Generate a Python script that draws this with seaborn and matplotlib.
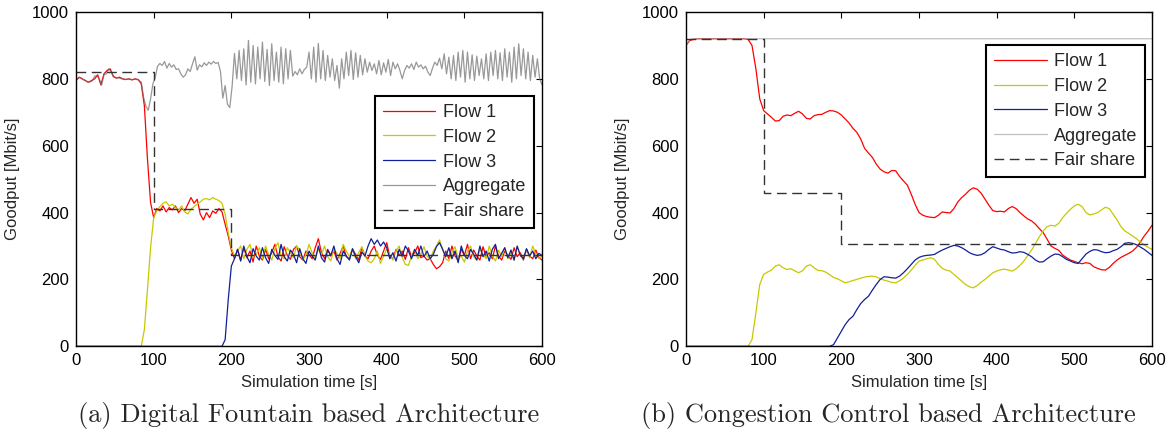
import numpy as np
import matplotlib
matplotlib.use("Agg")
import matplotlib.pyplot as plt
import seaborn as sns

# (a) Digital Fountain: flows sampled every 4 s, aggregate every 3 s
t_a_flow = np.arange(0, 601, 4)
t_a_agg = np.arange(0, 601, 3)

flow1_a = [
    795, 805, 800, 795, 790, 795, 800, 812, 782, 815,
    825, 830, 808, 802, 805, 800, 798, 800, 797, 800,
    798, 785, 720, 560, 430, 385, 412, 405, 420, 402,
    415, 408, 420, 400, 412, 405, 425, 445, 428, 440,
    395, 378, 400, 385, 405, 398, 412, 402, 365, 330,
    288, 262, 290, 258, 295, 265, 285, 252, 300, 270,
    258, 290, 262, 280, 305, 268, 255, 298, 272, 260,
    290, 300, 268, 258, 285, 275, 262, 295, 322, 280,
    262, 290, 270, 285, 258, 278, 300, 268, 262, 290,
    275, 258, 295, 270, 262, 285, 300, 272, 260, 285,
    310, 268, 262, 290, 272, 285, 260, 295, 268, 280,
    300, 265, 270, 258, 262, 245, 232, 238, 250, 285,
    262, 300, 270, 258, 290, 272, 305, 262, 288, 270,
    258, 298, 268, 280, 262, 300, 270, 258, 285, 272,
    260, 295, 268, 280, 258, 290, 270, 262, 288, 265,
    258,
]
flow2_a = [
    0, 0, 0, 0, 0, 0, 0, 0, 0, 0,
    0, 0, 0, 0, 0, 0, 0, 0, 0, 0,
    0, 0, 50, 170, 295, 385, 405, 418, 428, 432,
    420, 425, 415, 408, 420, 402, 396, 410, 418, 425,
    432, 440, 442, 438, 445, 440, 436, 428, 395, 340,
    295, 270, 285, 300, 262, 290, 305, 268, 275, 295,
    262, 300, 275, 258, 292, 310, 270, 262, 295, 280,
    265, 300, 288, 258, 272, 305, 280, 262, 290, 275,
    300, 268, 255, 290, 278, 262, 305, 285, 268, 292,
    262, 280, 298, 270, 255, 250, 262, 285, 248, 270,
    290, 272, 258, 285, 300, 265, 245, 242, 270, 290,
    262, 275, 298, 270, 260, 285, 300, 318, 290, 262,
    255, 280, 298, 262, 270, 252, 285, 300, 268, 258,
    290, 275, 262, 300, 270, 255, 288, 268, 295, 262,
    280, 258, 298, 272, 262, 290, 265, 300, 275, 262,
    270,
]
flow3_a = [
    0, 0, 0, 0, 0, 0, 0, 0, 0, 0,
    0, 0, 0, 0, 0, 0, 0, 0, 0, 0,
    0, 0, 0, 0, 0, 0, 0, 0, 0, 0,
    0, 0, 0, 0, 0, 0, 0, 0, 0, 0,
    0, 0, 0, 0, 0, 0, 0, 0, 20, 140,
    240, 262, 290, 255, 300, 268, 250, 292, 270, 258,
    295, 265, 248, 290, 272, 260, 305, 268, 255, 288,
    275, 250, 292, 262, 248, 285, 270, 258, 300, 265,
    252, 288, 272, 300, 262, 245, 285, 270, 258, 292,
    268, 250, 282, 270, 300, 322, 305, 318, 300, 312,
    295, 262, 280, 255, 290, 270, 300, 285, 262, 290,
    272, 300, 268, 285, 262, 275, 298, 310, 290, 268,
    295, 262, 285, 250, 300, 272, 262, 290, 275, 258,
    300, 268, 285, 255, 290, 305, 262, 278, 295, 265,
    288, 258, 300, 272, 262, 292, 270, 285, 262, 278,
    272,
]
aggregate_a = [
    795, 803, 804, 798, 795, 790, 791, 794, 808, 810,
    800, 781, 812, 815, 830, 822, 806, 803, 804, 801,
    800, 798, 799, 800, 797, 799, 798, 796, 790, 745,
    718, 706, 740, 785, 805, 838, 846, 840, 852, 832,
    846, 835, 842, 828, 830, 815, 805, 812, 830, 822,
    845, 866, 826, 842, 836, 848, 840, 850, 844, 852,
    846, 849, 822, 742, 780, 724, 714, 778, 876, 800,
    885, 795, 890, 782, 915, 790, 900, 785, 895, 800,
    910, 792, 888, 780, 905, 795, 880, 790, 895, 785,
    890, 800, 885, 808, 822, 812, 830, 815, 828, 835,
    880, 800, 895, 790, 906, 800, 885, 795, 870, 805,
    860, 795, 840, 772, 860, 800, 880, 810, 885, 798,
    878, 805, 870, 812, 860, 820, 850, 825, 845, 815,
    855, 812, 848, 820, 858, 810, 850, 830, 845, 825,
    800, 825, 840, 832, 845, 828, 850, 835, 842, 830,
    838, 820, 810, 832, 850, 840, 862, 830, 875, 815,
    865, 800, 870, 795, 880, 805, 885, 790, 880, 800,
    872, 795, 868, 810, 860, 800, 875, 795, 880, 810,
    885, 800, 878, 795, 890, 805, 880, 790, 895, 800,
    905, 810, 890, 800, 880, 795, 870, 805, 860, 800,
    782,
]
fair_t = [0, 100, 200, 600]
fair_a = [820, 410, 273, 273]

# (b) Congestion Control: sampled every 5 s
t_b = np.arange(0, 601, 5)
flow1_b = [
    900, 915, 918, 920, 920, 920, 920, 920, 920, 920,
    920, 920, 920, 920, 920, 920, 918, 900, 830, 740,
    705, 695, 685, 674, 675, 688, 692, 690, 697, 703,
    695, 682, 680, 690, 693, 694, 700, 705, 704, 700,
    692, 680, 668, 652, 640, 620, 592, 578, 565, 545,
    530, 522, 518, 526, 525, 508, 495, 482, 455, 425,
    400, 392, 388, 386, 385, 392, 402, 400, 399, 412,
    432, 445, 455, 467, 474, 470, 458, 440, 422, 406,
    403, 404, 402, 412, 418, 412, 400, 390, 381, 375,
    365, 352, 340, 320, 300, 293, 287, 273, 265, 258,
    254, 250, 247, 250, 248, 238, 233, 229, 228, 236,
    248, 258, 266, 272, 278, 285, 296, 312, 330, 345,
    362,
]
flow2_b = [
    0, 0, 0, 0, 0, 0, 0, 0, 0, 0,
    0, 0, 0, 0, 0, 0, 0, 20, 100, 185,
    215, 222, 228, 240, 244, 235, 230, 232, 226, 220,
    226, 240, 244, 235, 227, 226, 222, 214, 206, 202,
    196, 190, 193, 197, 200, 204, 207, 209, 210, 208,
    202, 198, 195, 191, 190, 196, 204, 215, 228, 242,
    255, 258, 262, 265, 260, 245, 233, 228, 225, 215,
    205, 195, 185, 178, 175, 182, 192, 200, 210, 220,
    225, 229, 231, 228, 225, 232, 242, 255, 272, 288,
    308, 328, 345, 358, 362, 360, 368, 385, 398, 410,
    420, 425, 418, 400, 393, 396, 400, 408, 416, 412,
    395, 378, 358, 345, 338, 330, 322, 312, 303, 296,
    290,
]
flow3_b = [
    0, 0, 0, 0, 0, 0, 0, 0, 0, 0,
    0, 0, 0, 0, 0, 0, 0, 0, 0, 0,
    0, 0, 0, 0, 0, 0, 0, 0, 0, 0,
    0, 0, 0, 0, 0, 0, 0, 0, 5, 25,
    45, 65, 80, 90, 110, 128, 140, 150, 168, 185,
    200, 208, 207, 205, 204, 210, 220, 232, 245, 258,
    266, 270, 272, 273, 275, 282, 288, 293, 298, 302,
    300, 295, 288, 280, 275, 272, 274, 280, 290, 298,
    294, 290, 288, 283, 279, 280, 283, 281, 275, 268,
    258, 252, 253, 262, 270, 276, 275, 268, 260, 255,
    250, 248, 262, 276, 284, 289, 288, 283, 280, 281,
    286, 290, 298, 308, 310, 308, 304, 297, 290, 281,
    272,
]
agg_t_b = [0, 5, 10, 600]
aggregate_b = [900, 918, 920, 920]
fair_b = [920, 460, 307, 307]

labels = ["Flow 1", "Flow 2", "Flow 3", "Aggregate", "Fair share"]
captions = ["(a) Digital Fountain based Architecture",
            "(b) Congestion Control based Architecture"]

sns.set_theme(style="white")
plt.rcParams["font.family"] = ["Liberation Sans", "DejaVu Sans"]

fig = plt.figure(figsize=(11.73, 4.44), dpi=100)
ax_a = fig.add_axes([0.0648, 0.22, 0.3973, 0.753])
ax_b = fig.add_axes([0.5848, 0.22, 0.3973, 0.753])

lw = 0.9
red, yel, blu = "#ff0000", "#c8c800", "#10209a"


def draw(ax, tf, f1, f2, f3, ta, agg, agg_col, fair, anchor):
    sns.lineplot(x=tf, y=f1, ax=ax, color=red, lw=lw, label=labels[0])
    sns.lineplot(x=tf, y=f2, ax=ax, color=yel, lw=lw, label=labels[1])
    sns.lineplot(x=tf, y=f3, ax=ax, color=blu, lw=lw, label=labels[2])
    sns.lineplot(x=ta, y=agg, ax=ax, color=agg_col, lw=lw, alpha=0.7,
                 label=labels[3])
    sns.lineplot(x=fair_t, y=fair, ax=ax, color="#333333", lw=1.0,
                 drawstyle="steps-post", linestyle=(0, (7, 4)),
                 label=labels[4])
    ax.set_xlim(0, 600)
    ax.set_ylim(0, 1000)
    ax.set_xticks(range(0, 601, 100))
    ax.set_yticks(range(0, 1001, 200))
    ax.tick_params(direction="in", top=True, right=True, length=4,
                   width=0.8, labelsize=12, colors="black", pad=5)
    for s in ax.spines.values():
        s.set_color("black")
        s.set_linewidth(1.0)
    ax.set_xlabel("Simulation time [s]", fontsize=12, labelpad=5)
    ax.set_ylabel("Goodput [Mbit/s]", fontsize=12, labelpad=9)
    leg = ax.legend(loc="upper right", bbox_to_anchor=anchor, fontsize=13,
                    frameon=True, fancybox=False, framealpha=1,
                    edgecolor="black", handlelength=2.9, handletextpad=0.4,
                    labelspacing=0.43, borderpad=0.45, borderaxespad=0)
    leg.get_frame().set_linewidth(1.5)


draw(ax_a, t_a_flow, flow1_a, flow2_a, flow3_a, t_a_agg, aggregate_a,
     "#6d6d6d", fair_a, (0.983, 0.749))
draw(ax_b, t_b, flow1_b, flow2_b, flow3_b, agg_t_b, aggregate_b,
     "#a5a5a5", fair_b, (0.986, 0.901))

fig.text(0.263, 0.065, captions[0], family="cmr10", fontsize=19,
         ha="center", va="center")
fig.text(0.757, 0.065, captions[1], family="cmr10", fontsize=19,
         ha="center", va="center")

fig.savefig("out.png", dpi=100)
